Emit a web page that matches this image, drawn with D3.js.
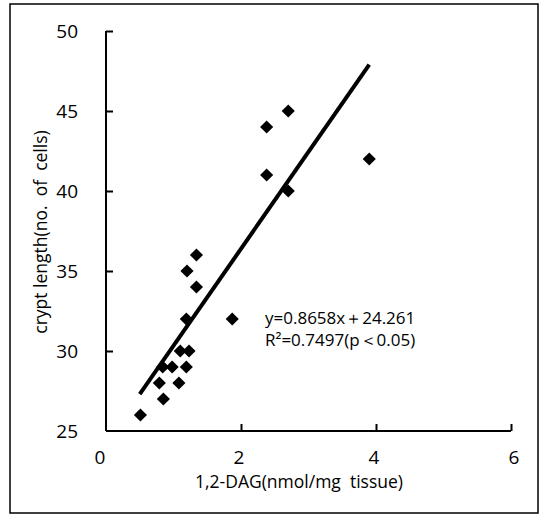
<!DOCTYPE html>
<html><head><meta charset="utf-8">
<script src="https://cdn.jsdelivr.net/npm/d3@7"></script>
<style>body{margin:0;background:#fff}svg{display:block}text{font-family:"Open Sans",sans-serif;fill:#000}</style>
</head><body>
<script>
const dagValues = [0.51,0.85,0.79,1.08,0.84,0.98,1.19,1.10,1.23,1.19,1.34,1.20,1.34,1.87,2.70,2.38,2.38,2.70,3.90];
const cryptValues = [26,27,28,28,29,29,29,30,30,32,34,35,36,32,45,44,41,40,42];
const fitX = [0.5, 3.9];
const fitY = [27.3, 47.9];
const xTicks = [0,2,4,6];
const yTicks = [25,30,35,40,45,50];
const eqLines = ["y=0.8658x＋24.261", "R²=0.7497(p＜0.05)"];

const W=544,H=515;
const svg=d3.select("body").append("svg").attr("width",W).attr("height",H);
svg.append("rect").attr("x",10).attr("y",4).attr("width",528).attr("height",509)
  .attr("fill","none").attr("stroke","#000").attr("stroke-width",1.5);

const x=d3.scaleLinear().domain([0,6]).range([106,511]);
const y=d3.scaleLinear().domain([25,50]).range([431,31]);

// axes
const gx=svg.append("g").attr("transform","translate(0,431)")
  .call(d3.axisTop(x).tickValues(xTicks.filter(d=>d>0)).tickSize(7).tickFormat(""));
gx.select(".domain").attr("d",`M${x(0)},0H${x(6)}`);
gx.selectAll("path,line").attr("stroke","#000").attr("stroke-width",2);
const gy=svg.append("g").attr("transform","translate(106,0)")
  .call(d3.axisRight(y).tickValues(yTicks.filter(d=>d>25)).tickSize(7).tickFormat(""));
gy.select(".domain").attr("d",`M0,${y(50)}V${y(25)}`);
gy.selectAll("path,line").attr("stroke","#000").attr("stroke-width",2);

// tick labels
svg.selectAll(".xl").data(xTicks).enter().append("text")
  .attr("x",d=>x(d)-(d===0?6:0)+(d===6?3:0)-(d===2||d===4?2:0)).attr("y",464).attr("text-anchor","middle")
  .attr("font-size",19).text(d=>d);
svg.selectAll(".yl").data(yTicks).enter().append("text")
  .attr("x",78).attr("y",d=>y(d)+7).attr("text-anchor","end")
  .attr("font-size",19).text(d=>d);

// titles
svg.append("text").attr("x",299).attr("y",488).attr("text-anchor","middle")
  .attr("font-size",17.5).text("1,2-DAG(nmol/mg\u00a0 tissue)");
svg.append("text").attr("transform","translate(47,232) rotate(-90)").attr("text-anchor","middle")
  .attr("font-size",17.5).text("crypt length(no.\u00a0 of\u00a0 cells)");

// fit line
svg.append("line").attr("x1",x(fitX[0])).attr("y1",y(fitY[0])).attr("x2",x(fitX[1])).attr("y2",y(fitY[1]))
  .attr("stroke","#000").attr("stroke-width",4);

// points
const pts=dagValues.map((d,i)=>[d,cryptValues[i]]);
svg.selectAll(".pt").data(pts).enter().append("path")
  .attr("d",d3.symbol().type(d3.symbolDiamond2).size(110))
  .attr("transform",d=>`translate(${x(d[0])},${y(d[1])})`)
  .attr("fill","#000");

// equation
svg.selectAll(".eq").data(eqLines).enter().append("text")
  .attr("x",265).attr("y",(d,i)=>324+i*22).attr("font-size",17).text(d=>d);
</script>
</body></html>
